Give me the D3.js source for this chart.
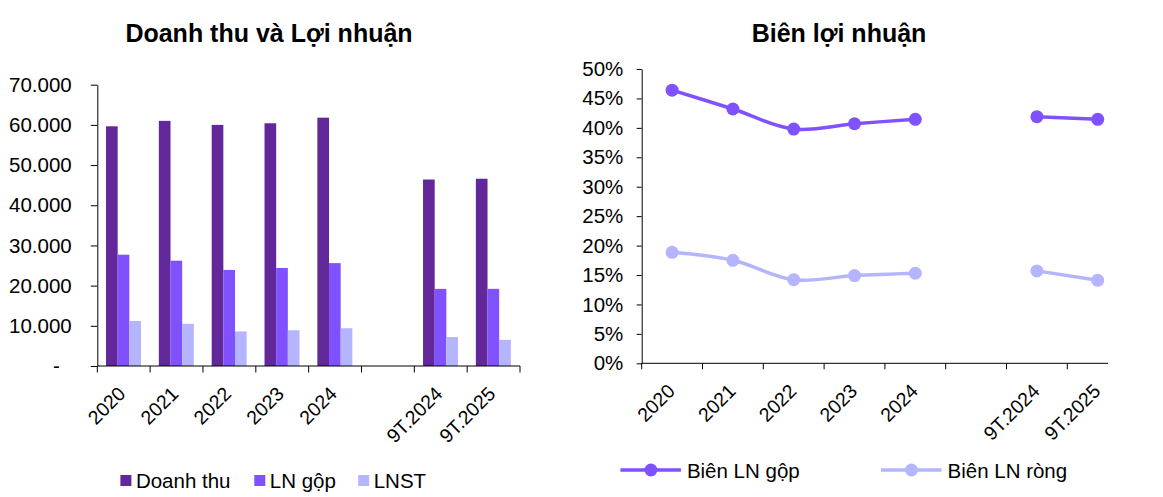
<!DOCTYPE html>
<html><head><meta charset="utf-8">
<script src="https://cdn.jsdelivr.net/npm/d3@7"></script>
<style>body{margin:0;background:#fff}svg{display:block;font-family:"Liberation Sans",Arial,sans-serif}</style>
</head><body><svg id="c" width="1163" height="497"></svg>
<script>
// ---- data ----
const categories = ["2020","2021","2022","2023","2024","","9T.2024","9T.2025"];
const revenue     = [59650, 61000, 60000, 60400, 61800, null, 46400, 46600];
const grossProfit = [27700, 26200, 23900, 24400, 25600, null, 19200, 19200];
const netProfit   = [11200, 10500,  8600,  8900,  9400, null,  7200,  6500];
const barSeries = ["Doanh thu","LN gộp","LNST"];
const barTicks = [0,10000,20000,30000,40000,50000,60000,70000];
const barTickLabels = ["-","10.000","20.000","30.000","40.000","50.000","60.000","70.000"];

const grossMargin = [0.464, 0.432, 0.398, 0.407, 0.4145, null, 0.419, 0.4145];
const netMargin   = [0.1886, 0.175, 0.142, 0.149, 0.153, null, 0.157, 0.141];
const lineSeries = ["Biên LN gộp","Biên LN ròng"];
const pctTicks = [0,0.05,0.10,0.15,0.20,0.25,0.30,0.35,0.40,0.45,0.50];
const pctTickLabels = ["0%","5%","10%","15%","20%","25%","30%","35%","40%","45%","50%"];

const barColors = ["#62289A","#8052FF","#B5B5FF"];
const lineColors = ["#7F52FF","#B5B5FF"];

const svg = d3.select("#c");

// ---------- LEFT: bars ----------
{
  const x = d3.scaleBand().domain(categories).range([97.3, 520]).padding(0);
  const y = d3.scaleLinear().domain([0,70000]).range([366, 84.7]);
  const x1 = d3.scaleBand().domain(barSeries).range([8.7, 43.7]).padding(0);
  const seriesVals = [revenue, grossProfit, netProfit];

  svg.append("text").attr("x", 269).attr("y", 41.5).attr("text-anchor","middle")
    .attr("font-size", 25).attr("font-weight","bold").text("Doanh thu và Lợi nhuận");

  const g = svg.append("g");
  barSeries.forEach((s, si) => {
    g.selectAll(null).data(categories.map((c,i)=>({c, v: seriesVals[si][i]})).filter(d=>d.v!=null))
      .enter().append("rect")
      .attr("x", d => x(d.c) + x1(s))
      .attr("width", x1.bandwidth())
      .attr("y", d => y(d.v))
      .attr("height", d => y(0) - y(d.v))
      .attr("fill", barColors[si]);
  });

  const yAxis = d3.axisLeft(y).tickValues(barTicks).tickSize(6.5).tickSizeOuter(0)
    .tickFormat((d,i) => barTickLabels[i]);
  const ya = svg.append("g").attr("transform","translate(97.3,0)").call(yAxis);
  ya.select(".domain").attr("stroke","#000");
  ya.selectAll(".tick line").attr("stroke","#000");
  ya.selectAll(".tick text").attr("font-size", 20.5).attr("fill","#000")
    .attr("font-family","Liberation Sans, Arial, sans-serif")
    .attr("x", (d,i) => i===0 ? -37.5 : -25.6);

  const xa = svg.append("g");
  xa.append("line").attr("x1", x.range()[0]).attr("x2", x.range()[1])
    .attr("y1", y(0)).attr("y2", y(0)).attr("stroke","#000");
  const bounds = categories.map(c => x(c)).concat([x.range()[1]]);
  xa.selectAll(null).data(bounds).enter().append("line")
    .attr("x1", d=>d).attr("x2", d=>d).attr("y1", y(0)).attr("y2", y(0)+6.5).attr("stroke","#000");
  xa.selectAll(null).data(categories.filter(c=>c!=="")).enter().append("text")
    .attr("transform", c => `translate(${x(c)+x.bandwidth()/2+3},${y(0)+29}) rotate(-45)`)
    .attr("text-anchor","end").attr("font-size", 19.5).text(c=>c);

  const legX = [120.4, 254.3, 358.2];
  barSeries.forEach((s,i) => {
    svg.append("rect").attr("x", legX[i]).attr("y", 475).attr("width", 11).attr("height", 11).attr("fill", barColors[i]);
    svg.append("text").attr("x", legX[i]+15.5).attr("y", 488).attr("font-size", 20.5).text(s);
  });
}

// ---------- RIGHT: lines ----------
{
  const x = d3.scaleBand().domain(categories).range([641.7, 641.7 + 8*60.8]).padding(0);
  const y = d3.scaleLinear().domain([0,0.5]).range([363.3, 69]);
  const seriesVals = [grossMargin, netMargin];

  svg.append("text").attr("x", 839).attr("y", 41.5).attr("text-anchor","middle")
    .attr("font-size", 25).attr("font-weight","bold").text("Biên lợi nhuận");

  const line = d3.line()
    .defined(d => d.v != null)
    .x(d => x(d.c) + x.bandwidth()/2)
    .y(d => y(d.v))
    .curve(d3.curveCatmullRom.alpha(0.5));

  seriesVals.slice().reverse().forEach((vals, ri) => {
    const si = seriesVals.length - 1 - ri;
    const data = categories.map((c,i)=>({c, v: vals[i]}));
    svg.append("path").datum(data).attr("d", line).attr("fill","none")
      .attr("stroke", lineColors[si]).attr("stroke-width", 3.5);
    svg.selectAll(null).data(data.filter(d=>d.v!=null)).enter().append("circle")
      .attr("cx", d => x(d.c) + x.bandwidth()/2).attr("cy", d => y(d.v))
      .attr("r", 6.5).attr("fill", lineColors[si]);
  });

  const yAxis = d3.axisLeft(y).tickValues(pctTicks).tickSize(5).tickSizeOuter(0)
    .tickFormat((d,i) => pctTickLabels[i]);
  const ya = svg.append("g").attr("transform","translate(641.7,0)").call(yAxis);
  ya.select(".domain").attr("stroke","#000");
  ya.selectAll(".tick line").attr("stroke","#000");
  ya.selectAll(".tick text").attr("font-size", 20.5).attr("fill","#000")
    .attr("font-family","Liberation Sans, Arial, sans-serif").attr("x", -18.4);

  const xa = svg.append("g");
  xa.append("line").attr("x1", 641.7).attr("x2", 1108)
    .attr("y1", y(0)).attr("y2", y(0)).attr("stroke","#000");
  xa.selectAll(null).data(categories).enter().append("line")
    .attr("x1", c=>x(c)).attr("x2", c=>x(c)).attr("y1", y(0)).attr("y2", y(0)+6).attr("stroke","#000");
  xa.selectAll(null).data(categories.filter(c=>c!=="")).enter().append("text")
    .attr("transform", c => `translate(${x(c)+x.bandwidth()/2+4},${y(0)+29}) rotate(-45)`)
    .attr("text-anchor","end").attr("font-size", 19.5).text(c=>c);

  const legX = [620.4, 881];
  lineSeries.forEach((s,i) => {
    svg.append("line").attr("x1", legX[i]).attr("x2", legX[i]+60.5).attr("y1", 470).attr("y2", 470)
      .attr("stroke", lineColors[i]).attr("stroke-width", 3.5);
    svg.append("circle").attr("cx", legX[i]+30.5).attr("cy", 470).attr("r", 6.5).attr("fill", lineColors[i]);
    svg.append("text").attr("x", legX[i]+66.5).attr("y", 478).attr("font-size", 20.5).text(s);
  });
}
</script></body></html>
